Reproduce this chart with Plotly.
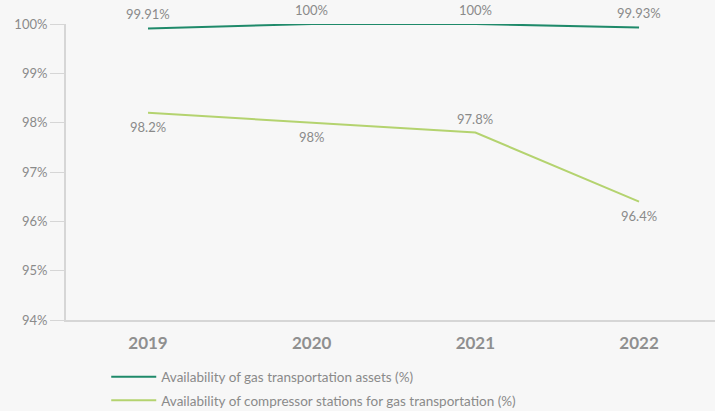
import plotly.graph_objects as go

years = ["2019", "2020", "2021", "2022"]
assets = [99.91, 100, 100, 99.93]
assets_labels = ["99.91%", "100%", "100%", "99.93%"]
compressors = [98.2, 98.0, 97.8, 96.4]
compressors_labels = ["98.2%", "98%", "97.8%", "96.4%"]
# +1 = label above the point, -1 = below
compressors_label_side = [-1, -1, 1, -1]
y_ticks = [94, 95, 96, 97, 98, 99, 100]
y_tick_text = ["94%", "95%", "96%", "97%", "98%", "99%", "100%"]

DARK_GREEN = "#1f8a6a"
LIGHT_GREEN = "#b4d36f"
TEXT_GREY = "#8a8a8a"
AXIS_GREY = "#d6d6d6"
FONT = "Lato"

fig = go.Figure()
fig.add_trace(go.Scatter(
    x=years, y=assets, mode="lines",
    name="Availability of gas transportation assets (%)",
    legendgroup="assets",
    line=dict(color=DARK_GREEN, width=2),
))
fig.add_trace(go.Scatter(
    x=years, y=compressors, mode="lines",
    name="Availability of compressor stations for gas transportation (%)",
    legendgroup="compressors",
    line=dict(color=LIGHT_GREEN, width=2),
))

# value labels (category axis: annotations are positioned by category index)
label_font = dict(family=FONT, size=13, color=TEXT_GREY)
for i, (y, t) in enumerate(zip(assets, assets_labels)):
    fig.add_annotation(x=i, y=y, text=t, showarrow=False, yshift=14, font=label_font)
for i, (y, t, s) in enumerate(zip(compressors, compressors_labels, compressors_label_side)):
    fig.add_annotation(x=i, y=y, text=t, showarrow=False, yshift=14 * s, font=label_font)

fig.update_layout(
    width=715, height=411,
    margin=dict(l=66, r=0, t=24, b=91, autoexpand=False),
    paper_bgcolor="#f7f7f7", plot_bgcolor="#f7f7f7",
    font=dict(family=FONT, color=TEXT_GREY),
    showlegend=True,
    legend=dict(
        orientation="v", x=0.062, xanchor="left", y=-0.14, yanchor="top",
        font=dict(family=FONT, size=13.5, color=TEXT_GREY),
        bgcolor="rgba(0,0,0,0)", tracegroupgap=3, itemwidth=45,
    ),
    xaxis=dict(
        type="category", range=[-0.501, 3.464],
        showgrid=False, zeroline=False,
        showline=True, linecolor=AXIS_GREY, linewidth=2,
        ticks="outside", ticklen=7, tickcolor="rgba(0,0,0,0)",
        tickfont=dict(family=FONT, size=17, color="#8f8f8f", weight="bold"),
    ),
    yaxis=dict(
        range=[94, 100], tickvals=y_ticks, ticktext=y_tick_text,
        showgrid=False, zeroline=False,
        showline=True, linecolor=AXIS_GREY, linewidth=2,
        ticks="outside", ticklen=14, tickcolor=AXIS_GREY, tickwidth=1,
        tickfont=dict(family=FONT, size=13, color=TEXT_GREY),
    ),
)

fig.write_html("out.html")
